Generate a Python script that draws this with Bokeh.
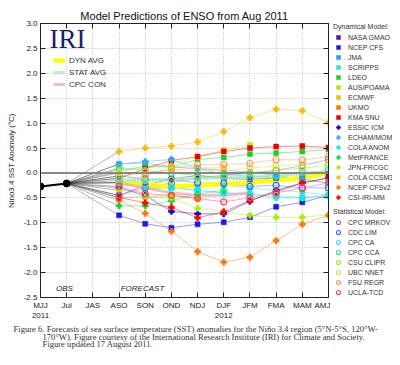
from bokeh.plotting import figure
from bokeh.layouts import row, column
from bokeh.models import (Range1d, FixedTicker, LinearAxis, Label, Legend, LegendItem,
                          Span, NumeralTickFormatter)
from bokeh.embed import file_html
from bokeh.resources import INLINE

# ---------------- data ----------------
seasons = ["MJJ", "Jul", "JAS", "ASO", "SON", "OND", "NDJ", "DJF", "JFM", "FMA", "MAM", "AMJ"]
year_labels = {0: "2011", 7: "2012"}
obs_x = [0, 1]
obs_vals = [-0.27, -0.21]
fc_start = 3  # ASO

dyn_names = ["NASA GMAO", "NCEP CFS", "JMA", "SCRIPPS", "LDEO", "AUS/POAMA", "ECMWF", "UKMO",
             "KMA SNU", "ESSIC ICM", "ECHAM/MOM", "COLA ANOM", "MetFRANCE", "JPN-FRCGC",
             "COLA CCSM3", "NCEP CFSv2", "CSI-IRI-MM"]
dyn_colors = ["#5b1a9e", "#1a1aee", "#2a9ae6", "#33e0cc", "#22cc22", "#b4ea00", "#ffb800",
              "#ff7400", "#ee0000", "#0000dd", "#33aaff", "#00eedd", "#00dd33", "#aaee00",
              "#ffb800", "#ff7400", "#ff0000"]
dyn_markers = ["square"] * 9 + ["plus"] * 8
dyn_vals = [
    [-0.45, -0.25, -0.12, -0.05, -0.11, -0.13, -0.10, -0.09, -0.02],
    [-0.85, -1.02, -1.10, -1.03, -0.99, -0.89, -0.68, -0.59, -0.45],
    [0.18, 0.20, 0.12, 0.09, 0.05, 0.02, -0.05, -0.12, -0.20],
    [-0.19, -0.32, -0.29, -0.27, -0.25, -0.30, -0.35, -0.38, -0.45],
    [0.03, 0.14, 0.12, 0.27, 0.31, 0.38, 0.40, 0.43, 0.47],
    [0.07, 0.09, 0.18, 0.32, 0.46, 0.56],
    [-0.06, 0.00, 0.06, 0.10, 0.10],
    [-0.50, -0.48, -0.45, -0.51],
    [-0.11, 0.09, 0.25, 0.33, 0.43, 0.50, 0.53, 0.54, 0.51],
    [-0.30, -0.45, -0.77, -0.82, -0.82, -0.57, -0.35, -0.20, -0.10],
    [0.18, 0.23, 0.27, 0.09, -0.03, -0.06, -0.10, -0.15, -0.20],
    [-0.19, -0.32, -0.29, -0.35, -0.40, -0.42, -0.50, -0.50, -0.45],
    [-0.66, -0.66, -0.56, -0.42, -0.35],
    [-0.35, -0.48, -0.50, -0.71, -0.78, -0.85, -0.89, -0.89, -0.84],
    [0.43, 0.50, 0.54, 0.62, 0.83, 1.11, 1.28, 1.25, 1.01],
    [-0.55, -0.81, -1.17, -1.58, -1.79, -1.69, -1.36, -1.03, -0.85],
    [-0.49, -0.60, -0.69, -0.90, -0.78, -0.55, -0.38, -0.20, -0.10],
]

stat_names = ["CPC MRKOV", "CDC LIM", "CPC CA", "CPC CCA", "CSU CLIPR", "UBC NNET", "FSU REGR", "UCLA-TCD"]
stat_colors = ["#9966cc", "#3366ff", "#33ddee", "#33dd99", "#88ee33", "#dddd44", "#ff9955", "#ff4455"]
stat_vals = [
    [-0.45, -0.30, -0.20, -0.10, -0.05, 0.00, 0.05, 0.15, 0.27],
    [-0.06, -0.12, -0.13, -0.20, -0.21, -0.27, -0.25, -0.30, -0.30],
    [-0.15, -0.22, -0.30, -0.35, -0.40, -0.42, -0.45, -0.50, -0.45],
    [0.10, 0.05, 0.00, -0.05, -0.08, -0.10, -0.05, 0.00, 0.05],
    [-0.10, -0.15, -0.15, -0.10, -0.05, 0.00, 0.05, 0.10, 0.15],
    [0.00, 0.02, 0.05, 0.06, 0.04, 0.10, 0.14, 0.17, 0.20],
    [-0.20, -0.05, 0.10, 0.17, 0.17, 0.19, 0.27, 0.26, 0.33],
    [-0.27, -0.42, -0.45, -0.51, -0.58, -0.50, -0.40, -0.30, -0.20],
]

dyn_avg = [-0.19, -0.24, -0.27, -0.25, -0.22, -0.19, -0.15, -0.10, 0.00]
stat_avg = [-0.15, -0.15, -0.13, -0.11, -0.10, -0.08, -0.05, -0.02, 0.03]
cpc_con = [-0.20, -0.30, -0.40, -0.45, -0.45, -0.40]

y_ticks = [-2.5, -2.0, -1.5, -1.0, -0.5, 0.0, 0.5, 1.0, 1.5, 2.0, 2.5, 3.0]

title_text = "Model Predictions of ENSO from Aug 2011"
caption = ["Figure 6. Forecasts of sea surface temperature (SST) anomalies for the Ni\u00f1o 3.4 region (5\u00b0N-5\u00b0S, 120\u00b0W-",
           "170\u00b0W).  Figure courtesy of the International Research Institute (IRI) for Climate and Society.",
           "Figure updated 17 August 2011."]

FONT = "Liberation Sans"
SERIF = "Liberation Serif"
TXT = "#222222"

# ---------------- main figure ----------------
W1, H1 = 330, 323
BOT = 23
p = figure(width=W1, height=H1, output_backend="svg", toolbar_location=None,
           x_range=Range1d(0, 11), y_range=Range1d(-2.5, 3.0),
           min_border_left=40, min_border_right=2, min_border_top=23, min_border_bottom=BOT)
p.background_fill_color = "white"
p.border_fill_color = "white"
p.outline_line_color = "#222222"

p.title.text = title_text
p.title.align = "center"
p.title.text_font = FONT
p.title.text_font_size = "11px"
p.title.text_font_style = "normal"
p.title.text_color = "#111111"
p.title.standoff = 4

xt = FixedTicker(ticks=list(range(len(seasons))))
yt = FixedTicker(ticks=y_ticks)

xlabels = {}
for i, s in enumerate(seasons):
    xlabels[i] = s + ("\n" + year_labels[i] if i in year_labels else "")
p.xaxis.ticker = xt
p.xaxis.major_label_overrides = xlabels
p.yaxis.ticker = yt
p.yaxis.formatter = NumeralTickFormatter(format="0.0")
for ax in (p.xaxis[0], p.yaxis[0]):
    ax.major_tick_in = 5
    ax.major_tick_out = 0
    ax.minor_tick_line_color = None
    ax.axis_line_color = "#222222"
    ax.major_tick_line_color = "#222222"
    ax.major_label_text_font = FONT
    ax.major_label_text_font_size = "8px"
    ax.major_label_text_color = TXT
    ax.major_label_standoff = 3
p.yaxis.axis_label = "Nino3.4 SST Anomaly (\u00b0C)"
p.yaxis.axis_label_text_font = FONT
p.yaxis.axis_label_text_font_size = "8px"
p.yaxis.axis_label_text_font_style = "normal"
p.yaxis.axis_label_text_color = TXT
p.yaxis.axis_label_standoff = 5

for side, tk, ticks in (("right", yt, y_ticks), ("above", xt, list(range(len(seasons))))):
    ax = LinearAxis(ticker=tk, major_tick_in=5, major_tick_out=0, minor_tick_line_color=None,
                    major_label_overrides={t: "" for t in ticks}, axis_line_color="#222222",
                    major_tick_line_color="#222222", major_label_standoff=0)
    p.add_layout(ax, side)

p.xgrid.ticker = xt
p.ygrid.ticker = yt
for g in (p.xgrid[0], p.ygrid[0]):
    g.grid_line_color = "#bbbbbb"
    g.grid_line_dash = "1 2"
    g.grid_line_width = 1

p.add_layout(Span(location=0, dimension="width", line_color="#888888", line_width=2))

fx = list(range(fc_start, len(seasons)))

all_first = [v[0] for v in dyn_vals] + [v[0] for v in stat_vals]
p.multi_line(xs=[[obs_x[-1], fc_start] for _ in all_first],
             ys=[[obs_vals[-1], f] for f in all_first],
             line_color="#333333", line_alpha=0.45, line_width=0.8)

for vals, c in zip(dyn_vals, dyn_colors):
    p.line(fx[:len(vals)], vals, line_color=c, line_alpha=0.45, line_width=1)
for vals, c in zip(stat_vals, stat_colors):
    p.line(fx[:len(vals)], vals, line_color=c, line_alpha=0.45, line_width=1)

r_dyn_avg = p.line(fx[:len(dyn_avg)], dyn_avg, line_color="#ffff00", line_width=4.5)
r_stat_avg = p.line(fx[:len(stat_avg)], stat_avg, line_color="#99eebb", line_width=3, line_dash="2 1")
r_cpc = p.line(fx[:len(cpc_con)], cpc_con, line_color="#eeaabb", line_width=3, line_alpha=0.8)

for vals, c, m in zip(dyn_vals, dyn_colors, dyn_markers):
    size = 5 if m == "square" else 6
    p.scatter(fx[:len(vals)], vals, marker=m, size=size, fill_color=c, line_color=c, line_width=0.5)
for vals, c in zip(stat_vals, stat_colors):
    p.scatter(fx[:len(vals)], vals, marker="circle", size=6, fill_alpha=0, line_color=c, line_width=1.2)

p.line(obs_x, obs_vals, line_color="black", line_width=2)
p.scatter(obs_x, obs_vals, marker="circle", size=7, fill_color="black", line_color="black")


def style_legend(lg, glyph_h, label_h, spacing, font_size, title_size="7px"):
    lg.padding = 0
    lg.margin = 0
    lg.border_line_color = None
    lg.background_fill_alpha = 0
    lg.glyph_height = glyph_h
    lg.label_height = label_h
    lg.spacing = spacing
    lg.label_text_font = FONT
    lg.label_text_font_size = font_size
    lg.label_text_color = "#333333"
    lg.title_text_font = FONT
    lg.title_text_font_size = title_size
    lg.title_text_font_style = "normal"
    lg.title_text_color = "#333333"
    lg.title_standoff = 2


leg_avg = Legend(items=[LegendItem(label="DYN AVG", renderers=[r_dyn_avg]),
                        LegendItem(label="STAT AVG", renderers=[r_stat_avg]),
                        LegendItem(label="CPC CON", renderers=[r_cpc])],
                 location=(13, 208), glyph_width=12, label_standoff=4)
style_legend(leg_avg, 10, 10, 2, "8px")
p.add_layout(leg_avg)

FRAME_B = H1 - BOT  # frame bottom (pixels from top)


def lab(fig, text, rx, ry, size, font=FONT, align="left", style="normal", color=TXT, left=0, bottom=FRAME_B):
    fig.add_layout(Label(x=rx - left, y=bottom - ry, x_units="screen", y_units="screen", text=text,
                         text_font=font, text_font_size=size, text_align=align,
                         text_baseline="middle", text_font_style=style, text_color=color))


lab(p, "IRI", 49, 41, "27px", font=SERIF, color="#1c1c6e", left=40)
lab(p, "OBS", 64, 291, "8px", align="center", style="italic", left=40)
lab(p, "FORECAST", 142, 291, "8px", align="center", style="italic", left=40)

# ---------------- legend panel ----------------
W2 = 62
lf = figure(width=W2, height=H1, output_backend="svg", toolbar_location=None,
            x_range=Range1d(-2, -1), y_range=Range1d(-2.5, 3.0), x_axis_type=None, y_axis_type=None,
            min_border=0, outline_line_color=None)
lf.border_fill_color = "white"
lf.background_fill_color = "white"

# legend swatches: same series, but the panel's x range lies outside the data, so only the legend shows
dyn_sw = []
for vals, c, m in zip(dyn_vals, dyn_colors, dyn_markers):
    dyn_sw.append(lf.scatter(fx[:len(vals)], vals, marker=m, fill_color=c, line_color=c, line_width=0.5))
stat_sw = []
for vals, c in zip(stat_vals, stat_colors):
    stat_sw.append(lf.scatter(fx[:len(vals)], vals, marker="circle", fill_alpha=0, line_color=c, line_width=1.1))

# in this layout the legend panel's frame is aligned with the main frame (bottom at FRAME_B)
leg_dyn = Legend(items=[LegendItem(label=n, renderers=[r]) for n, r in zip(dyn_names, dyn_sw)],
                 location=(3, FRAME_B - 205), title="Dynamical Model:", glyph_width=10, label_standoff=5)
style_legend(leg_dyn, 10, 10, 0, "7px")
lf.add_layout(leg_dyn)

leg_stat = Legend(items=[LegendItem(label=n, renderers=[r]) for n, r in zip(stat_names, stat_sw)],
                  location=(3, 0), title="Statistical Model:", glyph_width=10, label_standoff=5)
style_legend(leg_stat, 10, 10, 0, "7px")
lf.add_layout(leg_stat)

# ---------------- caption panel ----------------
W3, H3 = W1 + W2, 349 - H1
cf = figure(width=W3, height=H3, output_backend="svg", toolbar_location=None,
            x_range=Range1d(0, 1), y_range=Range1d(0, 1), x_axis_type=None, y_axis_type=None,
            min_border=0, outline_line_color=None)
cf.border_fill_color = "white"
cf.background_fill_color = "white"
for text, x0, yy in ((caption[0], 13, 5.4), (caption[1], 42, 13.1), (caption[2], 42, 20.8)):
    cf.add_layout(Label(x=x0, y=H3 - yy, x_units="screen", y_units="screen", text=text,
                        text_font=SERIF, text_font_size="8.6px", text_align="left",
                        text_baseline="middle", text_color="#333333"))

layout = column(row(p, lf, spacing=0), cf, spacing=0)
open("out.html", "w").write(file_html(layout, INLINE))
